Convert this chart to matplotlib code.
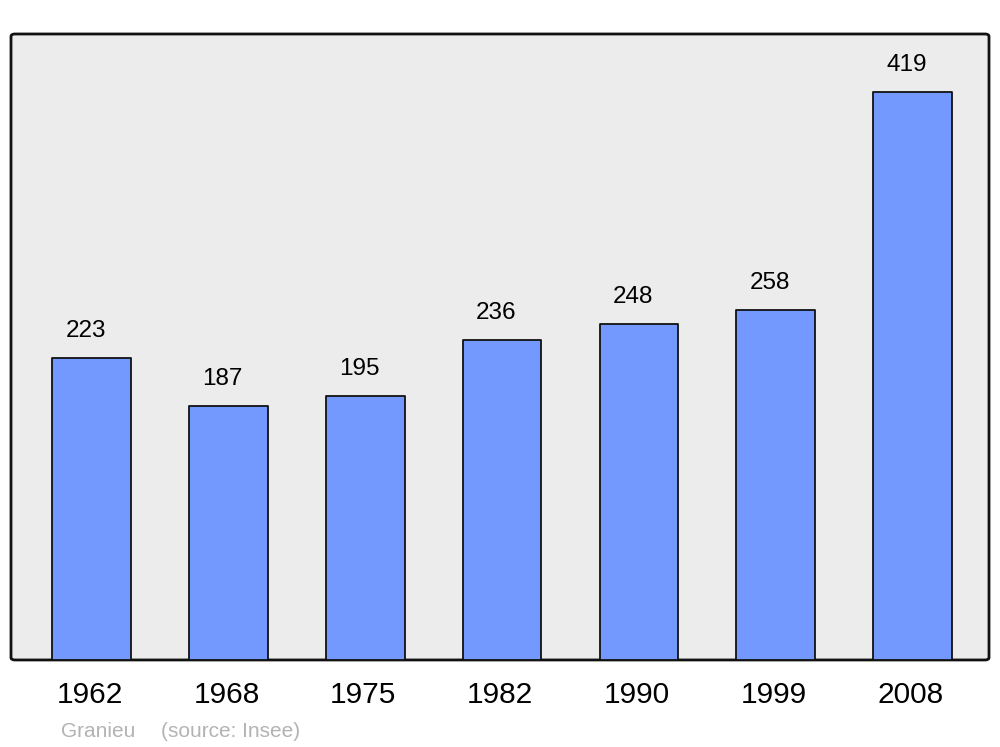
import matplotlib.pyplot as plt
from matplotlib.patches import FancyBboxPatch

# Population de Granieu
annees = ['1962', '1968', '1975', '1982', '1990', '1999', '2008']
population = [223, 187, 195, 236, 248, 258, 419]

plt.rcParams['font.family'] = ['Liberation Sans', 'DejaVu Sans']

fig = plt.figure(figsize=(10, 7.47), dpi=100)
ax = fig.add_axes([0.011, 0.1165, 0.978, 0.838])
ax.set_xlim(-0.59, 6.56)
ax.set_ylim(0, 461.7)
ax.set_facecolor('none')
for s in ax.spines.values():
    s.set_visible(False)
ax.set_xticks([])
ax.set_yticks([])

# fond arrondi
fond = FancyBboxPatch((0, 0), 1, 1, boxstyle='round,pad=0,rounding_size=0.004',
                      transform=ax.transAxes, facecolor='#ececec', edgecolor='#111111',
                      linewidth=2, zorder=0, clip_on=False)
ax.add_patch(fond)

x = range(len(annees))
barres = ax.bar(x, population, width=0.575, color='#7399ff', edgecolor='#111111',
                linewidth=1.3, zorder=2)
for b in barres:
    b.set_joinstyle('round')

for i, v in enumerate(population):
    ax.annotate(str(v), (i, v), xytext=(-6, 16), textcoords='offset pixels',
                ha='center', va='bottom', fontsize=17.5, color='black')

for i, a in enumerate(annees):
    ax.annotate(a, (i, 0), xytext=(-2, -35), textcoords='offset pixels',
                ha='center', va='center', fontsize=21.5, color='black')

fig.text(0.061, 0.013, 'Granieu', fontsize=15, color='#b3b3b3', ha='left', va='baseline')
fig.text(0.161, 0.013, '(source: Insee)', fontsize=15, color='#b3b3b3', ha='left', va='baseline')

fig.savefig('out.png', dpi=100)
